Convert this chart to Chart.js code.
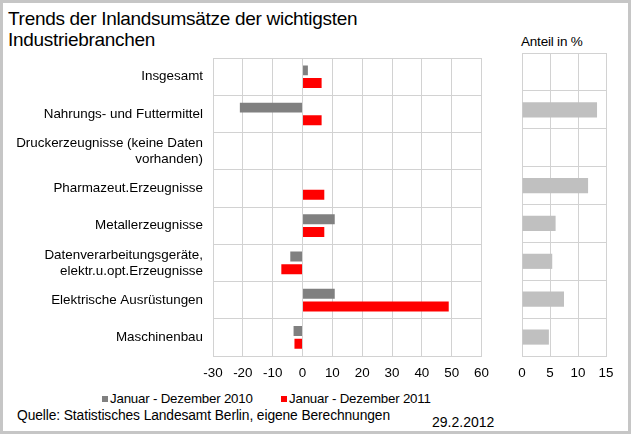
<!DOCTYPE html>
<html>
<head>
<meta charset="utf-8">
<script src="https://cdn.jsdelivr.net/npm/chart.js@4"></script>
<style>
  html, body { margin: 0; padding: 0; background: #fff; }
  #frame {
    position: relative; width: 631px; height: 434px; box-sizing: border-box;
    border: 3px solid #c6c6c6; font-family: "Liberation Sans", Arial, sans-serif; color: #000;
    overflow: hidden;
  }
  .abs { position: absolute; white-space: nowrap; }
  #title { left: 5px; top: 5px; font-size: 19px; line-height: 21px; letter-spacing: -0.3px; }
  #anteil { left: 518px; top: 31px; font-size: 13.5px; letter-spacing: -0.2px; }
  #leftWrap { left: -3px; top: 37px; width: 498px; height: 345px; }
  #rightWrap { left: 497px; top: 37px; width: 131px; height: 345px; }
  .legend { top: 388px; font-size: 13.3px; letter-spacing: -0.2px; }
  .sq { display: inline-block; width: 6px; height: 6px; margin-right: 2px; vertical-align: 1px; }
  #source { left: 14px; top: 405px; font-size: 13.8px; letter-spacing: -0.1px; }
  #date { left: 429px; top: 411px; font-size: 14px; }
</style>
</head>
<body>
<div id="frame">
  <div id="title" class="abs">Trends der Inlandsumsätze der wichtigsten<br>Industriebranchen</div>
  <div id="anteil" class="abs">Anteil in %</div>
  <div id="leftWrap" class="abs"><canvas id="trendChart"></canvas></div>
  <div id="rightWrap" class="abs"><canvas id="shareChart"></canvas></div>
  <div class="abs legend" style="left:99px"><span class="sq" style="background:#808080"></span>Januar - Dezember 2010</div>
  <div class="abs legend" style="left:278px"><span class="sq" style="background:#ff0000"></span>Januar - Dezember 2011</div>
  <div id="source" class="abs">Quelle: Statistisches Landesamt Berlin, eigene Berechnungen</div>
  <div id="date" class="abs">29.2.2012</div>
</div>
<script>
// Branchen (Kategorien)
const branches = [
    'Insgesamt',
    'Nahrungs- und Futtermittel',
    ['Druckerzeugnisse (keine Daten', 'vorhanden)'],
    'Pharmazeut.Erzeugnisse',
    'Metallerzeugnisse',
    ['Datenverarbeitungsgeräte,', 'elektr.u.opt.Erzeugnisse'],
    'Elektrische Ausrüstungen',
    'Maschinenbau'
];

// Veränderung in % gegenüber Vorjahr
const trend2010 = [1.8, -21, null, null, 10.8, -4.1, 10.8, -3.0];
const trend2011 = [6.4, 6.4, null, 7.3, 7.3, -7.1, 49, -2.7];

// Anteil in %
const share = [null, 13.4, null, 11.8, 6.0, 5.4, 7.5, 4.8];

const trendTicks = { min: -30, max: 60, step: 10 };
const shareTicks = { min: 0, max: 15, step: 5 };

const gridColor = '#d2d2d2';

Chart.defaults.font = { family: '"Liberation Sans", Arial, sans-serif', size: 13.4 };
Chart.defaults.color = '#000';

new Chart('trendChart', {
    type: 'bar',
    data: {
        labels: branches,
        datasets: [
            { label: 'Januar - Dezember 2010', data: trend2010, backgroundColor: '#808080' },
            { label: 'Januar - Dezember 2011', data: trend2011, backgroundColor: '#ff0000' }
        ]
    },
    options: {
        indexAxis: 'y',
        responsive: true,
        maintainAspectRatio: false,
        animation: false,
        categoryPercentage: 0.68,
        barPercentage: 0.78,
        layout: { padding: { top: 13, right: 16, left: 0, bottom: 0 } },
        plugins: { legend: { display: false }, tooltip: { enabled: false } },
        scales: {
            x: {
                min: trendTicks.min, max: trendTicks.max,
                ticks: { stepSize: trendTicks.step, padding: 9 },
                grid: { color: gridColor, drawTicks: false },
                border: { color: gridColor },
                afterFit: s => { s.height = 29; }
            },
            y: {
                ticks: { padding: 10 },
                grid: { color: gridColor, drawTicks: false },
                border: { color: gridColor },
                afterFit: s => { s.width = 213; }
            }
        }
    }
});

new Chart('shareChart', {
    type: 'bar',
    data: {
        labels: branches,
        datasets: [
            { label: 'Anteil in %', data: share, backgroundColor: '#c0c0c0' }
        ]
    },
    options: {
        indexAxis: 'y',
        responsive: true,
        maintainAspectRatio: false,
        animation: false,
        categoryPercentage: 0.4,
        barPercentage: 1,
        layout: { padding: { top: 13, right: 25, left: 0, bottom: 0 } },
        plugins: { legend: { display: false }, tooltip: { enabled: false } },
        scales: {
            x: {
                min: shareTicks.min, max: shareTicks.max,
                ticks: { stepSize: shareTicks.step, padding: 9 },
                grid: { color: gridColor, drawTicks: false },
                border: { color: gridColor },
                afterFit: s => { s.height = 29; }
            },
            y: {
                ticks: { display: false },
                grid: { color: gridColor, drawTicks: false },
                border: { color: gridColor },
                afterFit: s => { s.width = 22; }
            }
        }
    }
});
</script>
</body>
</html>
